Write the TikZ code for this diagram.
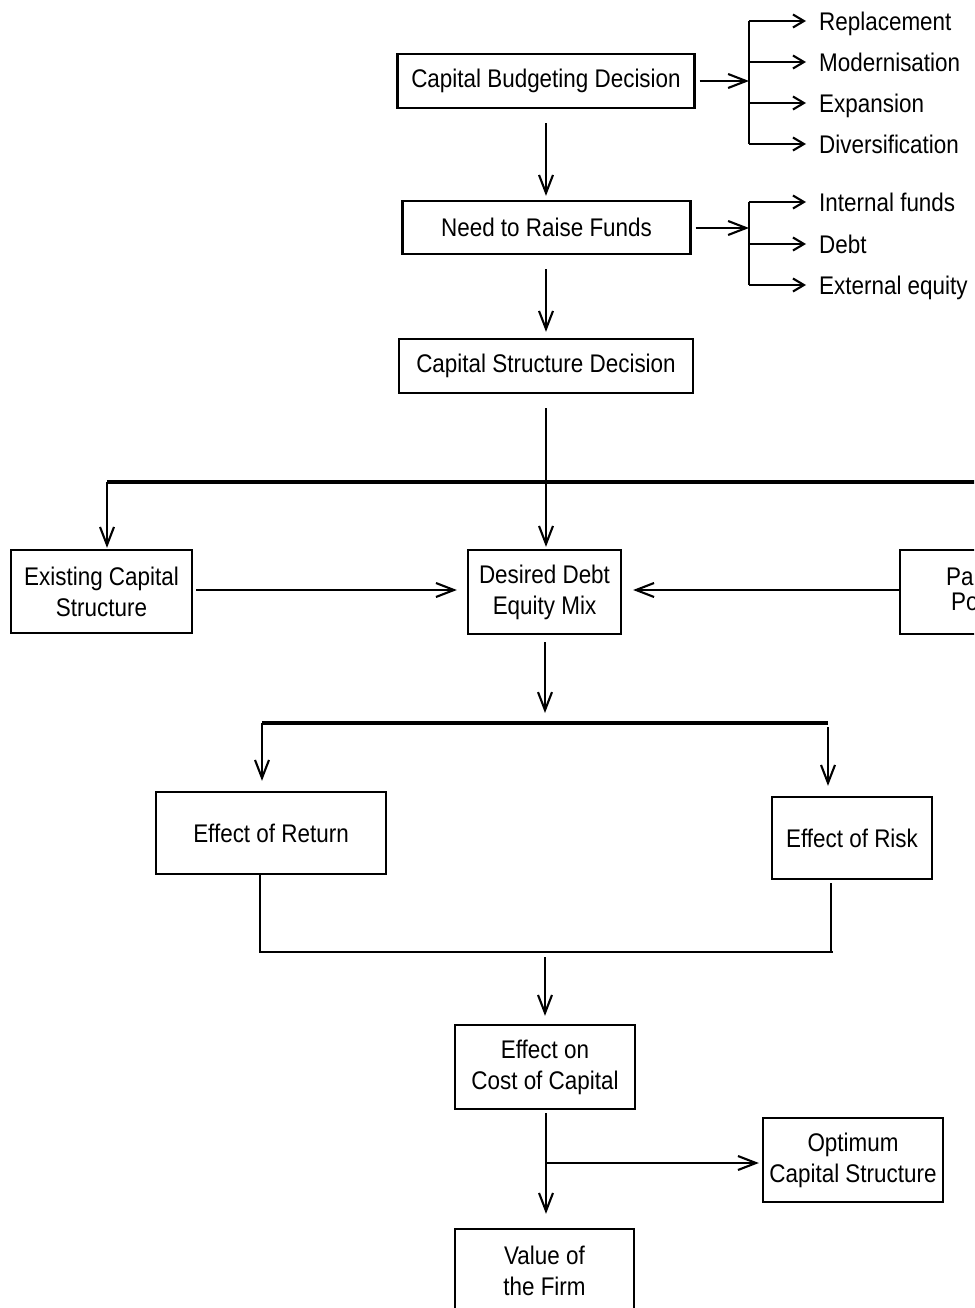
\documentclass[tikz,border=0pt]{standalone}
\usepackage{fontspec}
\setmainfont{Liberation Sans}[FakeStretch=0.88]
\usetikzlibrary{arrows.meta}
\newcommand\fs{\fontsize{25.5}{31}\selectfont}
\begin{document}
\begin{tikzpicture}[x=1pt,y=-1pt,
  box/.style={draw, line width=2.3pt, rectangle, align=center, inner sep=0pt, font=\fs},
  arr/.style={line width=2.1pt, -{Straight Barb[length=18pt,width=14pt]}},
  sarr/.style={line width=2.1pt, -{Straight Barb[length=11pt,width=13pt]}},
  ln/.style={line width=2.1pt},
  hbar/.style={line width=3.3pt},
  lbl/.style={anchor=west, font=\fs, inner xsep=13pt, inner ysep=0pt, text height=19pt, text depth=0pt},
  cut/.style={anchor=base west, font=\fs, inner sep=0pt}]
\useasboundingbox (0,0) rectangle (974,1308);
\clip (0,0) rectangle (974,1308);

% main boxes
\node[box, minimum width=297pt, minimum height=54pt] (cbd) at (546,81) {Capital Budgeting Decision};
\node[box, minimum width=288pt, minimum height=53pt] (nrf) at (546.5,227.5) {Need to Raise Funds};
\node[box, minimum width=294pt, minimum height=54pt] (csd) at (546,366) {Capital Structure Decision};
\node[box, minimum width=181pt, minimum height=83pt] (ecs) at (101.5,591.5) {Existing Capital\\Structure};
\node[box, minimum width=153pt, minimum height=84pt] (ddm) at (544.5,592) {Desired Debt\\Equity Mix};
\node[box, minimum width=160pt, minimum height=84pt] (pp) at (980,592) {};
\node[cut] (pa) at (946,585) {Pa};
\node[cut] (po) at (951,610) {Po};
\node[box, minimum width=230pt, minimum height=82pt] (eor) at (271,833) {Effect of Return};
\node[box, minimum width=160pt, minimum height=82pt] (risk) at (852,838) {Effect of Risk};
\node[box, minimum width=180pt, minimum height=84pt] (ecc) at (545,1067) {Effect on\\Cost of Capital};
\node[box, minimum width=180pt, minimum height=84pt] (ocs) at (853,1160) {Optimum\\Capital Structure};
\node[box, minimum width=179pt, minimum height=83pt] (vof) at (544.5,1270.5) {Value of\\the Firm};

% right-hand lists
\node[lbl] (rep) at (806,21) {Replacement};
\node[lbl] (mod) at (806,62) {Modernisation};
\node[lbl] (exp) at (806,103) {Expansion};
\node[lbl] (div) at (806,144) {Diversification};
\node[lbl] (int) at (806,202) {Internal funds};
\node[lbl] (dbt) at (806,244) {Debt};
\node[lbl] (ext) at (806,285) {External equity};

\coordinate (b1) at (749,81);
\coordinate (b2) at (749,228);
\draw[arr] ([xshift=4pt]cbd.east) -- (b1);
\draw[ln] (b1 |- rep.west) -- (b1 |- div.west);
\foreach \t in {rep,mod,exp,div} \draw[sarr] (b1 |- \t.west) -- (\t.west);
\draw[arr] ([xshift=4pt]nrf.east |- b2) -- (b2);
\draw[ln] (b2 |- int.west) -- (b2 |- ext.west);
\foreach \t in {int,dbt,ext} \draw[sarr] (b2 |- \t.west) -- (\t.west);

% vertical chain
\draw[arr, shorten <=14pt, shorten >=4pt] (cbd.south) -- (cbd.south |- nrf.north);
\draw[arr, shorten <=14pt, shorten >=6pt] (csd.north |- nrf.south) -- (csd.north);
\draw[arr, shorten <=14pt, shorten >=2pt] (csd.south) -- (csd.south |- ddm.north);

% distribution bar
\coordinate (jl) at (107,482);
\coordinate (jr) at (990,482);
\draw[hbar] (jl) -- (jr);
\draw[arr, shorten >=1pt] (jl) -- (jl |- ecs.north);
\draw[arr, shorten <=3pt, shorten >=10pt] (ecs.east |- 0,590) -- (ddm.west |- 0,590);
\draw[arr, shorten >=11pt] (pp.west |- 0,590) -- (ddm.east |- 0,590);

% second level
\coordinate (m1) at (545,713);
\draw[arr, shorten <=7pt] (m1 |- ddm.south) -- (m1);
\coordinate (bl) at (262,723);
\coordinate (br) at (828,723);
\draw[hbar] (bl) -- (br);
\draw[arr, shorten >=10pt] (bl) -- (bl |- eor.north);
\draw[arr, shorten <=4pt, shorten >=10pt] (br) -- (br |- risk.north);

\coordinate (lb) at (260,952);
\coordinate (rb) at (833,952);
\coordinate (rr) at (831,952);
\draw[line width=2.6pt] (lb |- eor.south) -- (lb) -- (rb);
\draw[ln, shorten <=3pt] (rr |- risk.south) -- (rr);

\coordinate (m2) at (545,957);
\draw[arr, shorten >=8pt] (m2) -- (m2 |- ecc.north);

\coordinate (m3) at (546,1163);
\draw[arr, shorten <=3pt, shorten >=14pt] (m3 |- ecc.south) -- (m3 |- vof.north);
\draw[arr, shorten >=3pt] (m3) -- (m3 -| ocs.west);
\end{tikzpicture}
\end{document}
